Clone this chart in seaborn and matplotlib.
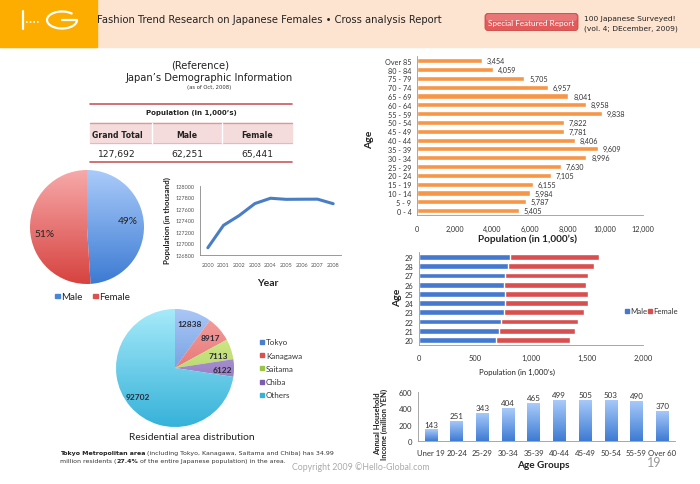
import numpy as np
import matplotlib
matplotlib.use('Agg')
import matplotlib.pyplot as plt
import seaborn as sns
from matplotlib.colors import LinearSegmentedColormap
from matplotlib.patches import Rectangle, FancyBboxPatch, Arc
from matplotlib.lines import Line2D

# ---------------- data ----------------
sex_labels = ['Male', 'Female']
sex_share = [49, 51]
table_headers = ['Grand Total', 'Male', 'Female']
table_values = ['127,692', '62,251', '65,441']
years = [2000, 2001, 2002, 2003, 2004, 2005, 2006, 2007, 2008]
population = [126926, 127316, 127486, 127694, 127787, 127768, 127770, 127771, 127692]
pop_ticks = [126800, 127000, 127200, 127400, 127600, 127800, 128000]
regions = ['Tokyo', 'Kanagawa', 'Saitama', 'Chiba', 'Others']
region_pop = [12838, 8917, 7113, 6122, 92702]
age_groups = ['Over 85', '80 - 84', '75 - 79', '70 - 74', '65 - 69', '60 - 64',
              '55 - 59', '50 - 54', '45 - 49', '40 - 44', '35 - 39', '30 - 34',
              '25 - 29', '20 - 24', '15 - 19', '10 - 14', '5 - 9', '0 - 4']
age_pop = [3454, 4059, 5705, 6957, 8041, 8958, 9838, 7822, 7781, 8406, 9609,
           8996, 7630, 7105, 6155, 5984, 5787, 5405]
age_ticks = [0, 2000, 4000, 6000, 8000, 10000, 12000]
single_ages = ['29', '28', '27', '26', '25', '24', '23', '22', '21', '20']
male_pop = [815, 795, 770, 760, 770, 770, 755, 730, 715, 690]
female_pop = [790, 765, 735, 730, 735, 735, 720, 690, 680, 660]
single_ticks = [0, 500, 1000, 1500, 2000]
income_groups = ['Uner 19', '20-24', '25-29', '30-34', '35-39', '40-44',
                 '45-49', '50-54', '55-59', 'Over 60']
income = [143, 251, 343, 404, 465, 499, 505, 503, 490, 370]
income_ticks = [0, 200, 400, 600]

# ---------------- setup ----------------
sns.set_style('white')
plt.rcParams['font.family'] = ['Lato', 'DejaVu Sans']
W, H = 700, 485
fig = plt.figure(figsize=(7, 4.85), dpi=100)
fig.patch.set_facecolor('white')
VER = ['DejaVu Sans']

def axpx(x0, y0, x1, y1, **kw):
    return fig.add_axes([x0 / W, 1 - y1 / H, (x1 - x0) / W, (y1 - y0) / H], **kw)

def ftext(x, y, s, **kw):
    kw.setdefault('ha', 'center')
    kw.setdefault('va', 'center')
    return fig.text(x / W, 1 - y / H, s, **kw)

def grad(ax, patch, ctop, cbot, extent):
    cmap = LinearSegmentedColormap.from_list('g', [cbot, ctop])
    im = ax.imshow(np.linspace(0, 1, 128).reshape(-1, 1), cmap=cmap, origin='lower',
                   aspect='auto', extent=extent, zorder=patch.get_zorder() + 0.1,
                   interpolation='bilinear')
    im.set_clip_path(patch)
    return im

# ---------------- header ----------------
bg = axpx(0, 0, 700, 485)
bg.set_xlim(0, 700); bg.set_ylim(485, 0); bg.axis('off')
bg.add_patch(Rectangle((0, 0), 700, 48, color='#FDE4D0', zorder=0))
bg.add_patch(Rectangle((0, 0), 97, 48, color='#FCAD00', zorder=1))
# logo
bg.add_line(Line2D([23, 23], [12, 30], color='white', lw=1.6, zorder=2))
bg.add_line(Line2D([26, 39], [23, 23], color='white', lw=1.2, ls=(0, (1, 1.2)), zorder=2))
bg.add_patch(Arc((62, 21), 30, 17, theta1=0, theta2=330, color='white', lw=1.6, zorder=2))
bg.add_line(Line2D([62, 77], [21, 21], color='white', lw=1.6, zorder=2))
ftext(97, 20, 'Fashion Trend Research on Japanese Females \u2022 Cross analysis Report',
      ha='left', fontsize=7.2, color='#222222', family=VER)
bg.add_patch(FancyBboxPatch((485, 14.5), 93, 17, boxstyle='round,pad=0,rounding_size=3',
                            fc='#E35A5A', ec='#C94747', lw=0.6, zorder=2))
bg.add_patch(FancyBboxPatch((486, 15), 91, 7, boxstyle='round,pad=0,rounding_size=3',
                            fc='#EE8A8A', ec='none', lw=0, zorder=2, alpha=0.6))
ftext(531.5, 23.3, 'Special Featured Report', fontsize=5.9, color='white')
ftext(584, 18.5, '100 Japanese Surveyed!', ha='left', fontsize=5.4, color='#222222', family=VER)
ftext(584, 28.5, '(vol. 4; DEcember, 2009)', ha='left', fontsize=5.4, color='#222222', family=VER)

# ---------------- reference title + table ----------------
ftext(200, 66, '(Reference)', fontsize=7.2, color='#222222', family=VER)
ftext(209, 78, 'Japan\u2019s Demographic Information', fontsize=7.2, color='#222222', family=VER)
ftext(209, 87, '(as of Oct, 2008)', fontsize=3.8, color='#333333', family=VER)
bg.add_line(Line2D([90, 292], [105, 105], color='#C9585C', lw=1.2))
ftext(191, 113.5, 'Population (in 1,000\u2019s)', fontsize=5.0, weight='bold', color='#222222', family=VER)
bg.add_patch(Rectangle((90, 124), 202, 20, color='#F5DCDC', zorder=1))
bg.add_line(Line2D([90, 292], [124, 124], color='#D99A9C', lw=1.0, zorder=2))
bg.add_line(Line2D([90, 292], [144, 144], color='#E6B8B8', lw=0.8, zorder=2))
for xs in (152, 222):
    bg.add_line(Line2D([xs, xs], [124, 144], color='#FFFFFF', lw=1.0, zorder=2))
bg.add_line(Line2D([90, 292], [163, 163], color='#C9585C', lw=1.2))
for xc, hd, vv in zip([117, 187, 257], table_headers, table_values):
    ftext(xc, 135, hd, fontsize=5.6, weight='bold', color='#222222', family=VER)
    ftext(xc, 154, vv, fontsize=6.6, color='#222222', family=VER)

# ---------------- male/female pie ----------------
axp = axpx(30, 171, 144, 285)
wed = axp.pie(sex_share, startangle=90, counterclock=False, radius=1,
              wedgeprops=dict(linewidth=0, edgecolor='none'))[0]
pcols = [('#AACBFA', '#3C7BD3'), ('#F7A9A9', '#D6433F')]
for w_, (ct, cb) in zip(wed, pcols):
    w_.set_facecolor('none')
    grad(axp, w_, ct, cb, (-1, 1, -1, 1))
axp.text(0.72, 0.11, f'{sex_share[0]}%', ha='center', va='center', fontsize=7.3,
         color='#222222', zorder=5)
axp.text(-0.74, -0.12, f'{sex_share[1]}%', ha='center', va='center', fontsize=7.3,
         color='#222222', zorder=5)
axp.set_xlim(-1, 1); axp.set_ylim(-1, 1); axp.set_aspect('equal'); axp.axis('off')
bg.add_patch(Rectangle((55, 294.5), 4.5, 4.5, color='#4A86D8', zorder=3))
ftext(61.5, 297, sex_labels[0], ha='left', fontsize=7, color='#222222')
bg.add_patch(Rectangle((93, 294.5), 4.5, 4.5, color='#DC5050', zorder=3))
ftext(99.5, 297, sex_labels[1], ha='left', fontsize=7, color='#222222')

# ---------------- population line ----------------
axl = axpx(200, 187, 341, 256)
sns.lineplot(x=years, y=population, ax=axl, color='#4A7EC4', linewidth=2.2)
axl.set_xlim(1999.5, 2008.5)
axl.set_ylim(126800, 128000)
axl.set_yticks(pop_ticks)
axl.set_yticklabels([str(t) for t in pop_ticks])
axl.set_xticks(years)
axl.set_xticklabels([str(y) for y in years])
axl.tick_params(axis='both', labelsize=4.0, colors='#555555', length=2, width=0.5, pad=2)
axl.tick_params(axis='x', length=0, pad=5)
for s in ('top', 'right'):
    axl.spines[s].set_visible(False)
for s in ('left', 'bottom'):
    axl.spines[s].set_color('#888888'); axl.spines[s].set_linewidth(0.6)
axl.set_facecolor('none')
ftext(167, 221, 'Population (in thousand)', rotation=90, fontsize=5.8, weight='bold', color='#222222')
ftext(268, 283, 'Year', fontsize=7.5, weight='bold', color='#222222')

# ---------------- residential pie ----------------
axr = axpx(116, 310, 234, 428)
rw = axr.pie(region_pop, startangle=90, counterclock=False, radius=1,
             wedgeprops=dict(linewidth=0, edgecolor='none'))[0]
rcols = [('#A9C7F6', '#4A7FD0'), ('#F4A3A3', '#D9514D'), ('#DDF29A', '#9CC448'),
         ('#C3B0E2', '#7C5DB0'), ('#A6EAF9', '#36B2D9')]
for w_, (ct, cb) in zip(rw, rcols):
    w_.set_facecolor('none')
    grad(axr, w_, ct, cb, (-1, 1, -1, 1))
lab_pos = [(0.24, 0.76), (0.60, 0.51), (0.73, 0.22), (0.81, -0.03), (-0.63, -0.48)]
for (lx, ly), v in zip(lab_pos, region_pop):
    axr.text(lx, ly, str(v), ha='center', va='center', fontsize=6, weight='bold',
             color='#2A2A3A', zorder=5)
axr.set_xlim(-1, 1); axr.set_ylim(-1, 1); axr.set_aspect('equal'); axr.axis('off')
leg_cols = ['#4A7FD0', '#D9514D', '#9CC448', '#7C5DB0', '#36B2D9']
for i, (nm, c) in enumerate(zip(regions, leg_cols)):
    yy = 343 + i * 13.2
    bg.add_patch(Rectangle((260, yy - 2), 4, 4, color=c, zorder=3))
    ftext(266, yy, nm, ha='left', fontsize=5.8, color='#333333')
ftext(192, 438, 'Residential area distribution', fontsize=7.4, color='#222222')

# footnote with mixed weights
FS = 4.5
t1 = ftext(60, 455, 'Tokyo Metropolitan area', ha='left', va='baseline', fontsize=FS,
           weight='bold', color='#222222', family=VER)
a1 = bg.annotate(' (including Tokyo, Kanagawa, Saitama and Chiba) has 34.99', xy=(1, 0),
                 xycoords=t1, va='bottom', ha='left', fontsize=FS, color='#333333', family=VER)
t2 = ftext(60, 463, 'million residents (', ha='left', va='baseline', fontsize=FS,
           color='#333333', family=VER)
a2 = bg.annotate('27.4%', xy=(1, 0), xycoords=t2, va='bottom', ha='left', fontsize=FS,
                 weight='bold', color='#222222', family=VER)
a3 = bg.annotate(' of the entire Japanese population) in the area.', xy=(1, 0), xycoords=a2,
                 va='bottom', ha='left', fontsize=FS, color='#333333', family=VER)
ftext(292, 467, 'Copyright 2009 \u00a9Hello-Global.com', ha='left', fontsize=6.3, color='#AAAAAA')
ftext(654, 463, '19', fontsize=9, color='#999999')

# ---------------- age distribution ----------------
axa = axpx(417, 57.3, 643, 216.1)
sns.barplot(x=age_pop, y=age_groups, orient='h', color='#F79646', saturation=1,
            width=0.58, ax=axa)
axa.set_xlim(0, 12000)
axa.set_xticks(age_ticks)
axa.set_xticklabels([f'{t:,}' for t in age_ticks])
for i, v in enumerate(age_pop):
    axa.text(v + 250, i, f'{v:,}', va='center', ha='left', fontsize=5.2, color='#333333')
axa.set_xlabel(''); axa.set_ylabel('')
axa.tick_params(axis='both', labelsize=5.2, colors='#333333', length=2, width=0.5, pad=2)
axa.tick_params(axis='x', length=3, pad=4)
for s in ('top', 'right'):
    axa.spines[s].set_visible(False)
for s in ('left', 'bottom'):
    axa.spines[s].set_color('#999999'); axa.spines[s].set_linewidth(0.6)
axa.set_facecolor('none')
ftext(528, 239, 'Population (in 1,000\u2019s)', fontsize=7.2, weight='bold', color='#222222')
ftext(370, 140, 'Age', rotation=90, fontsize=7.5, weight='bold', color='#222222')

# ---------------- single-age stacked ----------------
axs = axpx(419, 253.4, 643, 345.6)
totals = [m + f for m, f in zip(male_pop, female_pop)]
sns.barplot(x=totals, y=single_ages, orient='h', color='#D94F4F', saturation=1,
            width=0.62, ax=axs)
sns.barplot(x=male_pop, y=single_ages, orient='h', color='#4479CF', saturation=1,
            width=0.62, ax=axs)
axs.set_xlim(0, 2000)
axs.set_xticks(single_ticks)
axs.set_xticklabels([f'{t:,}' for t in single_ticks])
axs.set_xlabel(''); axs.set_ylabel('')
axs.tick_params(axis='both', labelsize=5.4, colors='#333333', length=2, width=0.5, pad=2)
axs.tick_params(axis='x', length=3, pad=4)
for s in ('top', 'right'):
    axs.spines[s].set_visible(False)
for s in ('left', 'bottom'):
    axs.spines[s].set_color('#999999'); axs.spines[s].set_linewidth(0.6)
axs.set_facecolor('none')
ftext(517, 372, 'Population (in 1,000\u2019s)', fontsize=5.6, color='#222222')
ftext(398, 298, 'Age', rotation=90, fontsize=7.5, weight='bold', color='#222222')
bg.add_patch(Rectangle((625, 310), 4, 4, color='#4479CF', zorder=3))
ftext(630.5, 312, 'Male', ha='left', fontsize=5.6, color='#333333')
bg.add_patch(Rectangle((648, 310), 4, 4, color='#D94F4F', zorder=3))
ftext(653.5, 312, 'Female', ha='left', fontsize=5.6, color='#333333')

# ---------------- income ----------------
axi = axpx(418, 393, 675, 442)
sns.barplot(x=income_groups, y=income, color='#5B8FD9', saturation=1, width=0.48, ax=axi)
axi.set_ylim(0, 600)
axi.set_yticks(income_ticks)
for p in axi.patches:
    x0, y0, wd, ht = p.get_x(), p.get_y(), p.get_width(), p.get_height()
    p.set_facecolor('none')
    grad(axi, p, '#A9CBFA', '#3E7BD3', (x0, x0 + wd, y0, y0 + ht))
axi.set_xlim(-0.5, len(income) - 0.5)
axi.set_ylim(0, 600)
for i, v in enumerate(income):
    axi.text(i, v + 22, str(v), ha='center', va='bottom', fontsize=5.8, color='#333333')
axi.set_xlabel(''); axi.set_ylabel('')
axi.tick_params(axis='both', labelsize=5.6, colors='#333333', length=2, width=0.5, pad=2)
axi.tick_params(axis='x', length=2, pad=4)
for s in ('top', 'right'):
    axi.spines[s].set_visible(False)
for s in ('left', 'bottom'):
    axi.spines[s].set_color('#999999'); axi.spines[s].set_linewidth(0.6)
axi.set_facecolor('none')
ftext(543, 466, 'Age Groups', fontsize=7.2, weight='bold', color='#222222')
ftext(381, 424, 'Annual Household\nIncome (million YEN)', rotation=90, fontsize=5.5,
      weight='bold', color='#222222', linespacing=1.0)

fig.savefig('out.png', dpi=100, facecolor='white')
